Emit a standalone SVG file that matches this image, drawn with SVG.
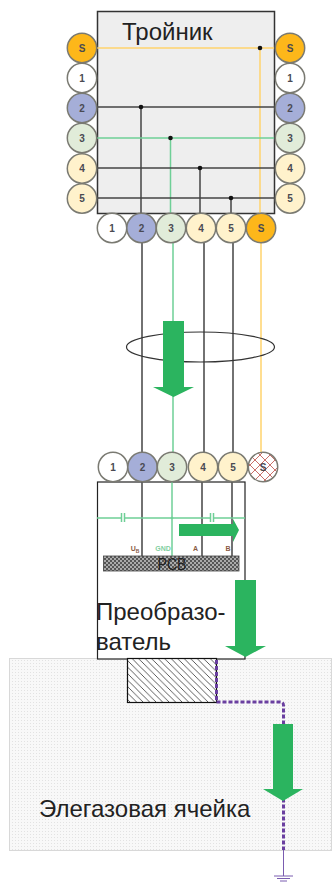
<svg xmlns="http://www.w3.org/2000/svg" width="332" height="882" viewBox="0 0 332 882">
<style>
text{font-family:"Liberation Sans",Arial,sans-serif;fill:#222}
.pin text{font-size:10px;font-weight:bold;text-anchor:middle;fill:#4a4a52}
.pin circle{stroke:#7a7a72;stroke-width:1.5}
.s{fill:#fdb71a}.w{fill:#fff}.b{fill:#a5aed8}.g{fill:#e1ecd9}.y{fill:#fff2cc}.x{fill:url(#cross)}
.big{font-size:24px}
.lbl{font-size:24px}
.k{stroke:#444;stroke-width:1.5;fill:none}
.gr{stroke:#6fcf97;stroke-width:1.5;fill:none}
.or{stroke:#ffd36e;stroke-width:1.5;fill:none}
.dot{fill:#111}
.arrow{fill:#2bb45f}
.small{font-size:7px;font-weight:bold;text-anchor:middle}
</style>
<defs>
<pattern id="dots" width="3" height="3" patternUnits="userSpaceOnUse"><rect width="3" height="3" fill="#f8f8f8"/><rect width="1" height="1" fill="#e2e2e2"/></pattern>
<pattern id="hatch" width="6.500" height="6.500" patternUnits="userSpaceOnUse"><rect width="6.500" height="6.500" fill="#fff"/><path d="M-1 -1L7.500 7.500M-1 5.500L1 7.500M5.500 -1L7.500 1" stroke="#333" stroke-width="0.800" fill="none"/></pattern>
<pattern id="chk" width="4" height="4" patternUnits="userSpaceOnUse"><rect width="4" height="4" fill="#555"/><rect width="2" height="2" fill="#aaa"/><rect x="2" y="2" width="2" height="2" fill="#aaa"/></pattern>
<pattern id="cross" width="10" height="10" patternUnits="userSpaceOnUse"><rect width="10" height="10" fill="#fff"/><path d="M0 5L5 0L10 5L5 10Z" stroke="#c9706a" stroke-width="1" fill="none"/></pattern>
</defs>

<g id="gas-cell"><rect x="9.500" y="658.500" width="322" height="192" fill="url(#dots)" stroke="#d8d8d8"/><text class="lbl" x="39" y="817">Элегазовая ячейка</text></g>

<g id="tee"><rect x="97.500" y="11.500" width="177" height="202" fill="#eee" stroke="#333" stroke-width="1.5"/><text class="big" x="122" y="40">Тройник</text></g>

<g id="converter"><rect x="97.500" y="482" width="147.500" height="177" fill="#fff" stroke="#222" stroke-width="1.2"/><text class="lbl" x="96" y="620">Преобразо-</text><text class="lbl" x="96" y="650">ватель</text></g>

<g id="probe"><rect x="127.500" y="658.500" width="89" height="44" fill="url(#hatch)" stroke="#111" stroke-width="1.200"/></g>

<g id="connectors">
<path class="or" d="M97 48H274M260 48V213M261 241V452"/>
<path class="k" d="M97 107H274M141 107V214M142 243V453"/>
<path class="gr" d="M97 138H274M170.500 138V214M173 243V453"/>
<path class="k" d="M97 168H274M200 168V214M204 243V453"/>
<path class="k" d="M97 198H274M231 198V214M233 243V453"/>
<circle class="dot" cx="260" cy="48" r="2.300"/><circle class="dot" cx="141" cy="107" r="2.300"/><circle class="dot" cx="170.500" cy="138" r="2.300"/><circle class="dot" cx="200" cy="168" r="2.300"/><circle class="dot" cx="231" cy="198" r="2.300"/>
<path class="k" d="M142 482V556M202 482V556M232 482V556"/>
<path class="gr" d="M172 482V556"/>
<path class="gr" stroke-width="1" d="M97 518H121.500M124.500 518H210.500M213.500 518H245M121.500 513V522M124.500 513V522M210.500 513V522M213.500 513V522"/>
<circle cx="172" cy="518" r="1.300" fill="#6fcf97"/>
<path d="M216.500 660V702H280Q283.500 702 283.500 705.500V850" fill="none" stroke="#6a3fa0" stroke-width="3" stroke-dasharray="4 2"/>
<path d="M283.500 850V876M274 876H293M277 878.500H290M280 881H287" fill="none" stroke="#7a5cb0" stroke-width="1"/>
</g>

<ellipse id="bundle" cx="200.500" cy="347" rx="74" ry="15" fill="none" stroke="#333" stroke-width="1.200"/>

<g id="pins-left" class="pin">
<circle class="s" cx="82" cy="48" r="14.700"/><text x="82" y="51.500">S</text>
<circle class="w" cx="82" cy="78" r="14.700"/><text x="82" y="81.500">1</text>
<circle class="b" cx="82" cy="108" r="14.700"/><text x="82" y="111.500">2</text>
<circle class="g" cx="82" cy="138" r="14.700"/><text x="82" y="141.500">3</text>
<circle class="y" cx="82" cy="168.500" r="14.700"/><text x="82" y="172">4</text>
<circle class="y" cx="82" cy="198.500" r="14.700"/><text x="82" y="202">5</text>
</g>
<g id="pins-right" class="pin">
<circle class="s" cx="290" cy="48" r="14.700"/><text x="290" y="51.500">S</text>
<circle class="w" cx="290" cy="78" r="14.700"/><text x="290" y="81.500">1</text>
<circle class="b" cx="290" cy="108" r="14.700"/><text x="290" y="111.500">2</text>
<circle class="g" cx="290" cy="138" r="14.700"/><text x="290" y="141.500">3</text>
<circle class="y" cx="290" cy="168.500" r="14.700"/><text x="290" y="172">4</text>
<circle class="y" cx="290" cy="198.500" r="14.700"/><text x="290" y="202">5</text>
</g>
<g id="pins-bottom" class="pin">
<circle class="w" cx="112" cy="228" r="14.700"/><text x="112" y="231.500">1</text>
<circle class="b" cx="141.500" cy="228" r="14.700"/><text x="141.500" y="231.500">2</text>
<circle class="g" cx="171" cy="228" r="14.700"/><text x="171" y="231.500">3</text>
<circle class="y" cx="201" cy="228" r="14.700"/><text x="201" y="231.500">4</text>
<circle class="y" cx="231" cy="228" r="14.700"/><text x="231" y="231.500">5</text>
<circle class="s" cx="261" cy="228" r="14.700"/><text x="261" y="231.500">S</text>
</g>
<g id="pins-converter" class="pin">
<circle class="w" cx="113" cy="467" r="14.700"/><text x="113" y="470.500">1</text>
<circle class="b" cx="142.500" cy="467" r="14.700"/><text x="142.500" y="470.500">2</text>
<circle class="g" cx="172" cy="467" r="14.700"/><text x="172" y="470.500">3</text>
<circle class="y" cx="203" cy="467" r="14.700"/><text x="203" y="470.500">4</text>
<circle class="y" cx="233" cy="467" r="14.700"/><text x="233" y="470.500">5</text>
<circle class="x" cx="263" cy="467" r="14.700"/><text x="263" y="470.500">S</text>
</g>

<g id="pcb"><rect x="103.500" y="556" width="135.500" height="15" fill="url(#chk)" stroke="#444" stroke-width="0.800"/><text x="172" y="570" font-size="17" text-anchor="middle" textLength="29" lengthAdjust="spacingAndGlyphs">PCB</text>
<text class="small" x="135" y="551" style="fill:#8a5a44">U<tspan font-size="5" dy="1.500">B</tspan></text>
<text class="small" x="163" y="551" style="fill:#7fcf9f">GND</text>
<text class="small" x="195.500" y="551" style="fill:#8a5a44">A</text>
<text class="small" x="228" y="551" style="fill:#8a5a44">B</text></g>

<g id="arrows">
<path class="arrow" d="M163 321H184V387H194L173.500 397L153 387H163Z"/>
<path class="arrow" d="M179 524H233V519L239 530L233 542V536H179Z"/>
<path class="arrow" d="M235 580H256V646H266L245.500 657L225 646H235Z"/>
<path class="arrow" d="M273 724H293V789H303L283 801L263 789H273Z"/>
</g>
</svg>
